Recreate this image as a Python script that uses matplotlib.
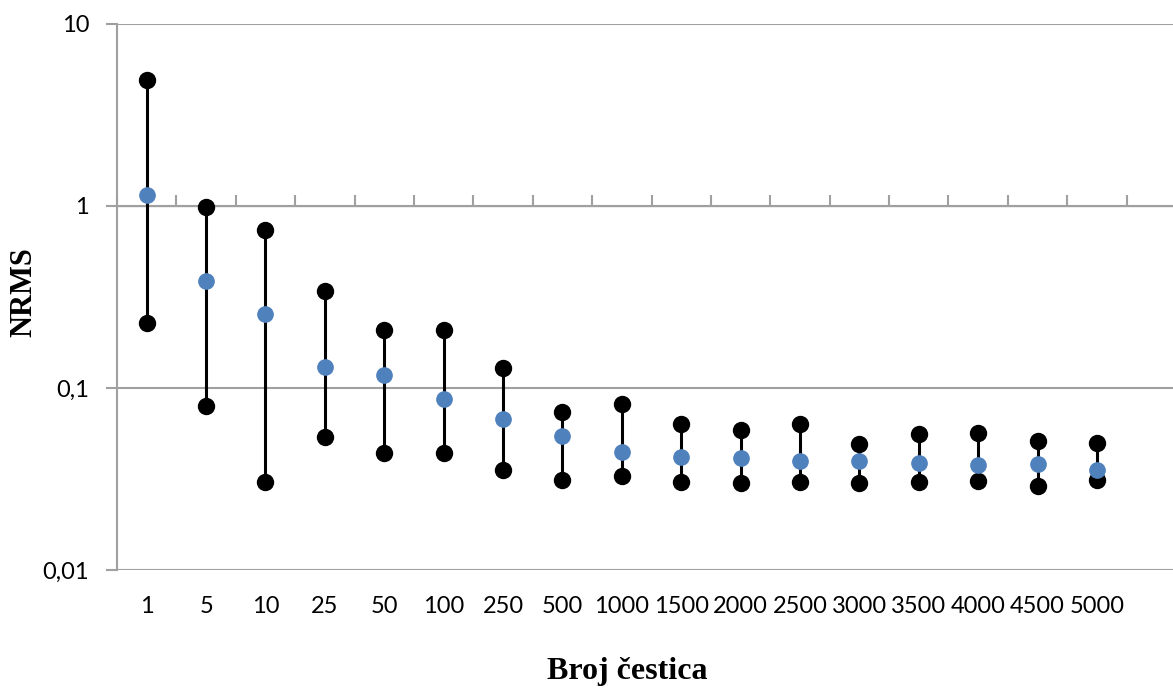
import numpy as np
import matplotlib
matplotlib.use("Agg")
import matplotlib.pyplot as plt
from matplotlib.ticker import FixedLocator, NullLocator

# broj čestica (kategorije)
kategorije = ["1", "5", "10", "25", "50", "100", "250", "500", "1000", "1500",
              "2000", "2500", "3000", "3500", "4000", "4500", "5000"]
# NRMS - maksimum, srednja vrijednost, minimum
nrms_max = [4.92, 0.987, 0.738, 0.341, 0.208, 0.208, 0.129, 0.0738, 0.0817, 0.0634,
            0.0588, 0.0634, 0.0492, 0.0558, 0.0566, 0.0512, 0.0499]
nrms_sr = [1.15, 0.387, 0.255, 0.130, 0.118, 0.087, 0.0676, 0.0544, 0.0445, 0.0418,
           0.0412, 0.0397, 0.0397, 0.0387, 0.0377, 0.0382, 0.0354]
nrms_min = [0.227, 0.0796, 0.0305, 0.0538, 0.044, 0.044, 0.0354, 0.0313, 0.0328, 0.0305,
            0.0301, 0.0305, 0.0301, 0.0305, 0.0309, 0.029, 0.0313]

siva = "#a0a0a0"
plt.rcParams['font.family'] = ['Lato', 'DejaVu Sans']

fig = plt.figure(figsize=(11.73, 6.9), dpi=100)
ax = fig.add_axes([117 / 1173, 1 - 570 / 690, 1 - 117 / 1173, (570 - 24) / 690])

x = np.arange(len(kategorije))
ax.vlines(x, nrms_min, nrms_max, color="black", lw=2.2, zorder=2)
ax.plot(x, nrms_max, "o", color="black", ms=11.5, zorder=3)
ax.plot(x, nrms_min, "o", color="black", ms=11.5, zorder=3)
ax.plot(x, nrms_sr, "o", color="#4f81bd", ms=11, zorder=4)

ax.set_yscale("log")
ax.set_ylim(0.01, 10)
ax.set_xlim(-0.5, 17.28)
ax.yaxis.set_major_locator(FixedLocator([0.01, 0.1, 1, 10]))
ax.yaxis.set_minor_locator(NullLocator())
ax.set_yticklabels(["0,01", "0,1", "1", "10"], fontsize=17)
ax.grid(axis="y", color=siva, lw=1.5)
ax.set_axisbelow(True)

ax.set_xticks(x)
ax.set_xticklabels(kategorije, fontsize=17)
ax.tick_params(axis="x", length=0, pad=19)
ax.tick_params(axis="y", length=8, color=siva, width=1.5, pad=12)

for s in ["top", "right", "bottom"]:
    ax.spines[s].set_visible(False)
ax.spines["left"].set_color(siva)
ax.spines["left"].set_linewidth(1.5)

# os x presijeca y os u 1
sec = ax.secondary_xaxis(2 / 3)
sec.set_xticks(np.arange(len(kategorije) + 1) - 0.5)
sec.set_xticklabels([])
sec.tick_params(direction="out", length=8, color=siva, width=1.5)
sec.spines["bottom"].set_color(siva)
sec.spines["bottom"].set_linewidth(1.5)

ax.set_ylabel("NRMS", fontsize=22, fontweight="bold", family="Liberation Serif")
ax.yaxis.set_label_coords((24 - 117) / 1056, (570 - 292) / 546)
ax.set_xlabel("Broj čestica", fontsize=23, fontweight="bold", family="Liberation Serif")
ax.xaxis.set_label_coords((627 - 117) / 1056, (570 - 672) / 546)
ax.xaxis.label.set_va("center")
ax.yaxis.label.set_va("center")

fig.savefig("out.png", dpi=100)
